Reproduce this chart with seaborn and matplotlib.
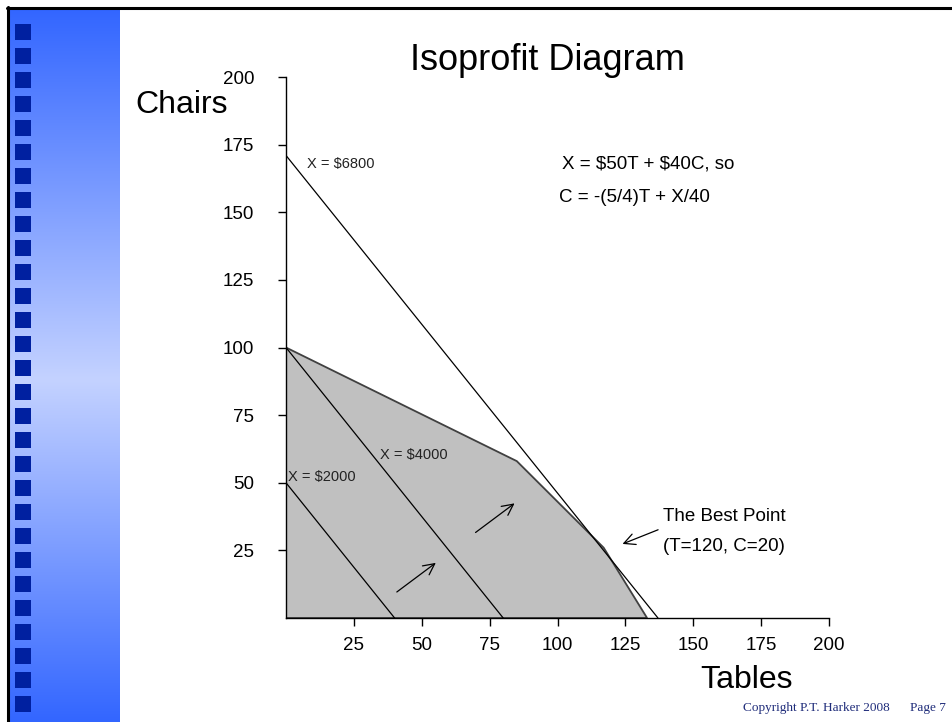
import numpy as np
import pandas as pd
import matplotlib
matplotlib.use("Agg")
import matplotlib.pyplot as plt
from matplotlib.patches import Rectangle
from matplotlib.colors import LinearSegmentedColormap
import seaborn as sns

# ---------------- data ----------------
x_ticks = [25, 50, 75, 100, 125, 150, 175, 200]
y_ticks = [25, 50, 75, 100, 125, 150, 175, 200]

# feasible region vertices (Tables, Chairs)
region_T = [0, 0, 85, 117, 133]
region_C = [0, 100, 58, 26, 0]

# isoprofit lines: intercepts on Chairs axis and Tables axis
iso_labels = ["X = \\$2000", "X = \\$4000", "X = \\$6800"]
iso_C_intercepts = [50, 100, 171]
iso_T_intercepts = [40, 80, 137]
iso_label_T = [0.8, 34.6, 7.7]
iso_label_C = [52, 60.3, 167.8]

# direction arrows (start T, start C, end T, end C)
arrow_start_T = [40, 69]
arrow_start_C = [9, 31]
arrow_end_T = [56, 85]
arrow_end_C = [21, 43]

best_arrow_from = (138, 33)
best_arrow_to = (123, 27)

# ---------------- style ----------------
sns.set_style("ticks")
plt.rcParams['font.family'] = ['Liberation Sans', 'DejaVu Sans']
plt.rcParams['text.color'] = 'black'
plt.rcParams['xtick.color'] = 'black'
plt.rcParams['ytick.color'] = 'black'
plt.rcParams['xtick.labelcolor'] = 'black'
plt.rcParams['ytick.labelcolor'] = 'black'

W, H = 952, 722
fig = plt.figure(figsize=(W / 100, H / 100), dpi=100)
fig.patch.set_facecolor("white")

# left gradient bar
bar_ax = fig.add_axes([10 / W, 0, 110 / W, (H - 9) / H])
cmap = LinearSegmentedColormap.from_list(
    "bar", [(0.0, "#3366FF"), (0.52, "#C4D2FF"), (1.0, "#3366FF")])
grad = np.linspace(0, 1, 256).reshape(-1, 1)
bar_ax.imshow(grad, aspect="auto", cmap=cmap, extent=[0, 110, H - 9, 0])
for i in range(29):
    top = 24 + 24 * i - 9
    bar_ax.add_patch(Rectangle((5, top), 16, 16, color="#0020A0", lw=0))
bar_ax.set_xlim(0, 110)
bar_ax.set_ylim(H - 9, 0)
bar_ax.axis("off")

# black border lines (top and left)
fig.add_artist(plt.Line2D([7 / W, 1.0], [1 - 8 / H, 1 - 8 / H], color="black", lw=2.2))
fig.add_artist(plt.Line2D([8 / W, 8 / W], [0, 1 - 7 / H], color="black", lw=2.2))

# main axes
ax = fig.add_axes([286 / W, 1 - 618 / H, (829 - 286) / W, (618 - 77) / H])
ax.set_facecolor("none")
ax.fill(region_T, region_C, facecolor="#C0C0C0", edgecolor="#404040", lw=1.3, zorder=1)

for lab, ci, ti, lt, lc in zip(iso_labels, iso_C_intercepts, iso_T_intercepts,
                               iso_label_T, iso_label_C):
    df = pd.DataFrame({"Tables": [0, ti], "Chairs": [ci, 0]})
    sns.lineplot(data=df, x="Tables", y="Chairs", ax=ax, color="black", lw=0.9,
                 zorder=3, sort=False)
    ax.text(lt, lc, lab, fontsize=10.5, color="#222222", ha="left", va="center")

for st, sc, et, ec in zip(arrow_start_T, arrow_start_C, arrow_end_T, arrow_end_C):
    ax.annotate("", xy=(et, ec), xytext=(st, sc),
                arrowprops=dict(arrowstyle="->", color="black", lw=0.9,
                                mutation_scale=20))

ax.annotate("", xy=best_arrow_to, xytext=best_arrow_from,
            arrowprops=dict(arrowstyle="->", color="black", lw=0.9, mutation_scale=20))
ax.text(138.9, 37.7, "The Best Point", fontsize=13.5, ha="left", va="center")
ax.text(138.9, 26.6, "(T=120, C=20)", fontsize=13.5, ha="left", va="center")

ax.text(101.7, 167.8, "X = \\$50T + \\$40C, so", fontsize=13.5, ha="left", va="center")
ax.text(100.6, 155.3, "C = -(5/4)T + X/40", fontsize=13.5, ha="left", va="center")

ax.set_xlim(0, 200)
ax.set_ylim(0, 200)
ax.set_xticks(x_ticks)
ax.set_yticks(y_ticks)
ax.set_xticklabels([str(v) for v in x_ticks])
ax.set_yticklabels([str(v) for v in y_ticks])
ax.tick_params(axis="y", direction="out", length=6, width=1, pad=17, labelsize=13.5)
ax.tick_params(axis="x", direction="out", length=6, width=1, pad=8, labelsize=13.5)
ax.set_xlabel("")
ax.set_ylabel("")
for s in ["top", "right"]:
    ax.spines[s].set_visible(False)
for s in ["left", "bottom"]:
    ax.spines[s].set_color("black")
    ax.spines[s].set_linewidth(1)

# titles and axis names
fig.text(547 / W, 1 - 60 / H, "Isoprofit Diagram", fontsize=26, ha="center", va="center")
fig.text(135 / W, 1 - 105 / H, "Chairs", fontsize=23, ha="left", va="center")
fig.text(700 / W, 1 - 680 / H, "Tables", fontsize=23, ha="left", va="center")

fig.text(743 / W, 1 - 708 / H, "Copyright P.T. Harker 2008", fontsize=9.5,
         family=["Liberation Serif", "DejaVu Serif"], color="#1F2C7A", ha="left", va="center")
fig.text(910 / W, 1 - 708 / H, "Page 7", fontsize=9.5,
         family=["Liberation Serif", "DejaVu Serif"], color="#1F2C7A", ha="left", va="center")

fig.savefig("out.png", dpi=100)
